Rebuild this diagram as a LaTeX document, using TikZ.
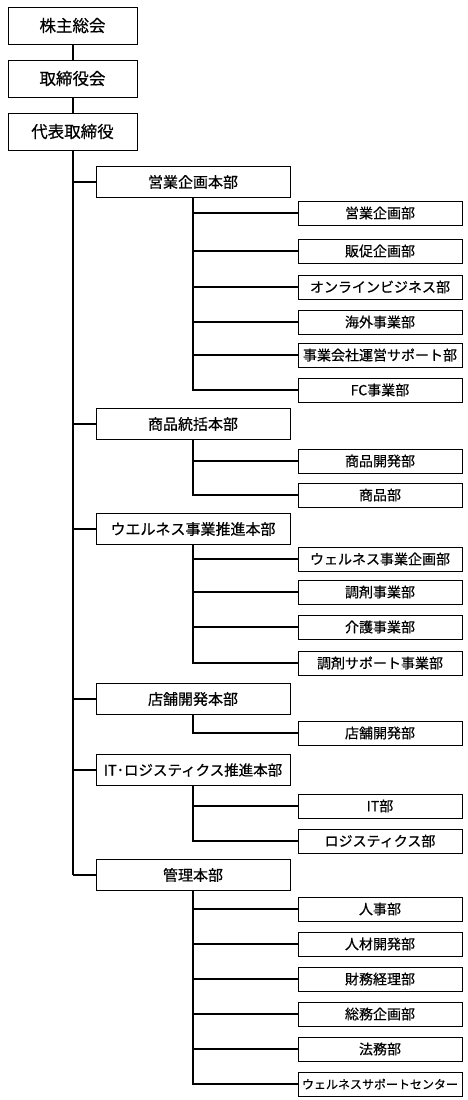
\documentclass[tikz,border=0pt]{standalone}
\usepackage{fontspec}
\setmainfont{Noto Sans CJK JP}[FakeBold=0.5]
\tikzset{
  topbox/.style={draw, line width=0.9pt, minimum width=129pt, minimum height=37pt, inner sep=0pt, font=\fontsize{16.5}{16.5}\selectfont},
  divbox/.style={draw, line width=0.9pt, minimum width=194pt, minimum height=31pt, inner sep=0pt, font=\fontsize{15}{15}\selectfont},
  deptbox/.style={draw, line width=0.9pt, minimum width=164pt, minimum height=24pt, inner sep=0pt, font=\fontsize{14}{14}\selectfont},
  conn/.style={line width=2pt}
}
\begin{document}
\begin{tikzpicture}[x=1pt,y=-1pt]
  \useasboundingbox[fill=white] (0,0) rectangle (468,1100);
  % top of the chart
  \node[topbox] (kabunushi) at (72.5,25.5) {株主総会};
  \node[topbox] (torishimari) at (72.5,78.5) {取締役会};
  \node[topbox] (daihyo) at (72.5,131.5) {代表取締役};
  \draw[conn] (kabunushi) -- (torishimari);
  \draw[conn] (torishimari) -- (daihyo);
  % divisions
  \node[divbox] (eigyo) at (193,182) {営業企画本部};
  \node[divbox] (shohin) at (193,424) {商品統括本部};
  \node[divbox] (wellness) at (193,529) {ウエルネス事業推進本部};
  \node[divbox] (tenpo) at (193,699) {店舗開発本部};
  \node[divbox, font=\fontsize{14.5}{14.5}\selectfont] (it) at (193,770) {IT･ロジスティクス推進本部};
  \node[divbox] (kanri) at (193,875) {管理本部};
  % main trunk
  \coordinate (trunkend) at (daihyo.south |- kanri.west);
  \draw[conn] (daihyo.south) -- (trunkend);
  \foreach \d in {eigyo,shohin,wellness,tenpo,it,kanri}
    \draw[conn] (daihyo.south |- \d.west) -- (\d.west);
  % departments
  \foreach \n/\y/\t in {e1/213/営業企画部, e2/251/販促企画部, e3/287/オンラインビジネス部,
      e4/322/海外事業部, e5/355/事業会社運営サポート部, e6/390/FC事業部}{
    \node[deptbox] (\n) at (380,\y) {\t};
    \draw[conn] (eigyo.south) |- (\n.west);
  }
  \foreach \n/\y/\t in {s1/461/商品開発部, s2/495/商品部}{
    \node[deptbox] (\n) at (380,\y) {\t};
    \draw[conn] (shohin.south) |- (\n.west);
  }
  \foreach \n/\y/\t in {w1/559/ウェルネス事業企画部, w2/592/調剤事業部, w3/627/介護事業部,
      w4/663/調剤サポート事業部}{
    \node[deptbox] (\n) at (380,\y) {\t};
    \draw[conn] (wellness.south) |- (\n.west);
  }
  \node[deptbox] (t1) at (380,733) {店舗開発部};
  \draw[conn] (tenpo.south) |- (t1.west);
  \foreach \n/\y/\t in {i1/806/IT部, i2/841/ロジスティクス部}{
    \node[deptbox] (\n) at (380,\y) {\t};
    \draw[conn] (it.south) |- (\n.west);
  }
  \foreach \n/\y/\t in {k1/909/人事部, k2/944/人材開発部, k3/979/財務経理部,
      k4/1014/総務企画部, k5/1049/法務部}{
    \node[deptbox] (\n) at (380,\y) {\t};
    \draw[conn] (kanri.south) |- (\n.west);
  }
  \node[deptbox, font=\fontsize{12}{12}\selectfont] (k6) at (380,1084) {ウェルネスサポートセンター};
  \draw[conn] (kanri.south) |- (k6.west);
\end{tikzpicture}
\end{document}
